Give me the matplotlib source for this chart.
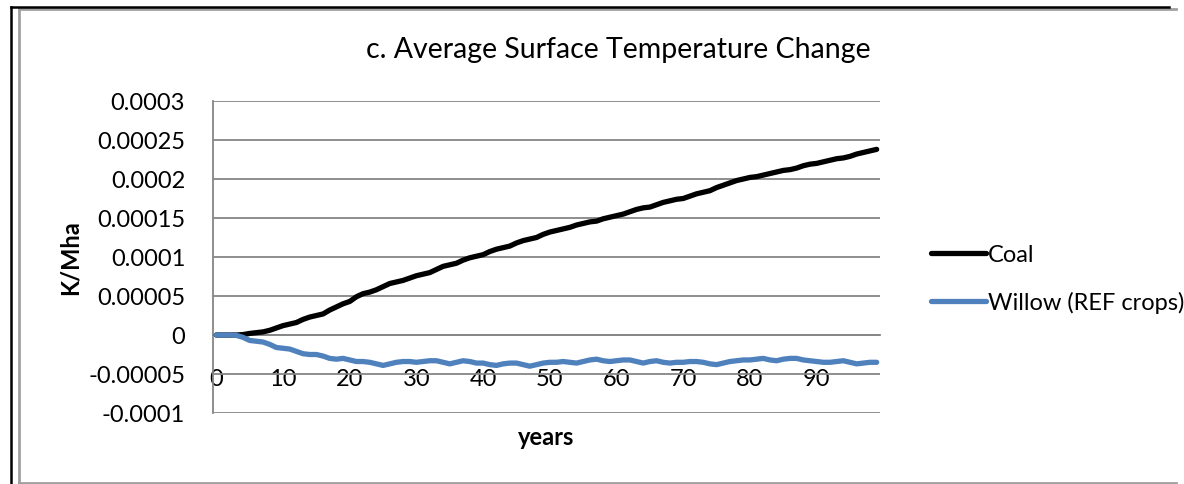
import matplotlib
matplotlib.use("Agg")
import matplotlib.pyplot as plt
from matplotlib.lines import Line2D

plt.rcParams['font.family'] = ['Lato', 'DejaVu Sans']

years = list(range(100))
year_labels = ['0', '10', '20', '30', '40', '50', '60', '70', '80', '90']
y_ticks = [0.0003, 0.00025, 0.0002, 0.00015, 0.0001, 0.00005, 0, -0.00005, -0.0001]
y_labels = ['0.0003', '0.00025', '0.0002', '0.00015', '0.0001', '0.00005', '0', '-0.00005', '-0.0001']

coal = [0, 0, 0, 0, 0.0000005, 0.000002, 0.000003, 0.000004, 0.000006, 0.000009,
        0.000012, 0.000014, 0.000016, 0.00002, 0.000023, 0.000025, 0.000027, 0.000032, 0.000036, 0.00004,
        0.000043, 0.000049, 0.000053, 0.000055, 0.000058, 0.000062, 0.000066, 0.000068, 0.00007, 0.000073,
        0.000076, 0.000078, 0.00008, 0.000084, 0.000088, 0.00009, 0.000092, 0.000096, 0.000099, 0.000101,
        0.000103, 0.000107, 0.00011, 0.000112, 0.000114, 0.000118, 0.000121, 0.000123, 0.000125, 0.000129,
        0.000132, 0.000134, 0.000136, 0.000138, 0.000141, 0.000143, 0.000145, 0.000146, 0.000149, 0.000151,
        0.000153, 0.000155, 0.000158, 0.000161, 0.000163, 0.000164, 0.000167, 0.00017, 0.000172, 0.000174,
        0.000175, 0.000178, 0.000181, 0.000183, 0.000185, 0.000189, 0.000192, 0.000195, 0.000198, 0.0002,
        0.000202, 0.000203, 0.000205, 0.000207, 0.000209, 0.000211, 0.000212, 0.000214, 0.000217, 0.000219,
        0.00022, 0.000222, 0.000224, 0.000226, 0.000227, 0.000229, 0.000232, 0.000234, 0.000236, 0.000238]

willow = [0, 0, 0, -0.0000005, -0.000003, -0.000007, -0.000008, -0.000009, -0.000012, -0.000016,
          -0.000017, -0.000018, -0.000021, -0.000024, -0.000025, -0.000025, -0.000027, -0.00003, -0.000031, -0.00003,
          -0.000032, -0.000034, -0.000034, -0.000035, -0.000037, -0.000039, -0.000037, -0.000035, -0.000034, -0.000034,
          -0.000035, -0.000034, -0.000033, -0.000033, -0.000035, -0.000037, -0.000035, -0.000033, -0.000034, -0.000036,
          -0.000036, -0.000038, -0.000039, -0.000037, -0.000036, -0.000036, -0.000038, -0.00004, -0.000038, -0.000036,
          -0.000035, -0.000035, -0.000034, -0.000035, -0.000036, -0.000034, -0.000032, -0.000031, -0.000033, -0.000034,
          -0.000033, -0.000032, -0.000032, -0.000034, -0.000036, -0.000034, -0.000033, -0.000035, -0.000036, -0.000035,
          -0.000035, -0.000034, -0.000034, -0.000035, -0.000037, -0.000038, -0.000036, -0.000034, -0.000033, -0.000032,
          -0.000032, -0.000031, -0.00003, -0.000032, -0.000033, -0.000031, -0.00003, -0.00003, -0.000032, -0.000033,
          -0.000034, -0.000035, -0.000035, -0.000034, -0.000033, -0.000035, -0.000037, -0.000036, -0.000035, -0.000035]

W, H = 1184, 485
fig = plt.figure(figsize=(W / 100, H / 100), dpi=100)
ax = fig.add_axes([213 / W, 1 - 414 / H, 667 / W, 312 / H])

grid_col = '#868686'
# category axis crosses at zero (set before ticks, it resets them)
ax.spines['bottom'].set_position(('data', 0))
ax.spines['bottom'].set_color(grid_col)
ax.spines['bottom'].set_linewidth(1.3)
ax.spines['left'].set_color(grid_col)
ax.spines['left'].set_linewidth(1.3)
ax.spines['right'].set_visible(False)
ax.spines['top'].set_visible(False)

xs = [y + 0.5 for y in years]
ax.plot(xs, coal, color='black', lw=3.8, solid_capstyle='round', label='Coal', zorder=3)
ax.plot(xs, willow, color='#4F81BD', lw=3.8, solid_capstyle='round', label='Willow (REF crops)', zorder=3)

ax.set_xlim(0, 100)
ax.set_ylim(-0.0001, 0.0003)
ax.set_yticks(y_ticks)
ax.set_yticklabels(y_labels, fontsize=17)
ax.set_xticks([int(l) + 0.5 for l in year_labels])
ax.set_xticklabels(year_labels, fontsize=17)
ax.tick_params(axis='y', length=0, pad=20)
ax.tick_params(axis='x', length=0, pad=24)
ax.yaxis.grid(True, color=grid_col, lw=1.3)
ax.set_axisbelow(True)

fig.text(618 / W, 1 - 50 / H, 'c. Average Surface Temperature Change', fontsize=20.5,
         ha='center', va='center')
fig.text(70 / W, 1 - 258 / H, 'K/Mha', fontsize=17, fontweight='bold', rotation=90,
         ha='center', va='center')
fig.text(546 / W, 1 - 438 / H, 'years', fontsize=17, fontweight='bold', ha='center', va='center')

fig.legend(loc='upper left', bbox_to_anchor=(910 / W, 1 - 224 / H), frameon=False, fontsize=17,
           handlelength=2.3, handletextpad=0.1, labelspacing=1.1)

# outer frames
fig.add_artist(Line2D([19 / W, 1176 / W], [1 - 9.5 / H, 1 - 9.5 / H], color='#a0a0a0', lw=2))
fig.add_artist(Line2D([19 / W, 19 / W], [1 - 9.5 / H, 1 - 484 / H], color='#a0a0a0', lw=2))
fig.add_artist(Line2D([19 / W, 1176 / W], [1 - 484 / H, 1 - 484 / H], color='#a0a0a0', lw=2))
fig.add_artist(Line2D([11 / W, 1169 / W], [1 - 7.5 / H, 1 - 7.5 / H], color='black', lw=1.8))
fig.add_artist(Line2D([11 / W, 11 / W], [1 - 7.5 / H, 0], color='black', lw=1.8))

fig.savefig('out.png', dpi=100)
